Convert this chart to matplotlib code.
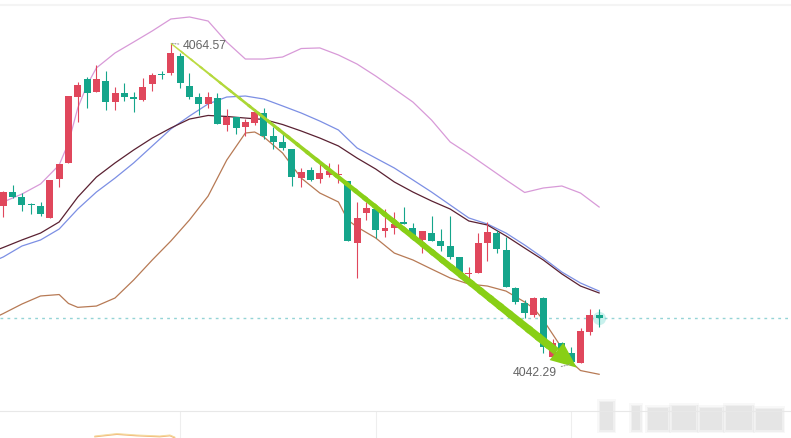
import matplotlib
matplotlib.use('Agg')
import matplotlib.pyplot as plt
import numpy as np
from matplotlib.patches import Polygon, Rectangle
from matplotlib.lines import Line2D

plt.rcParams['font.family'] = ['Liberation Sans', 'DejaVu Sans']

# candle data
opens = [4053.29, 4054.24, 4053.87, 4053.41, 4053.27, 4052.41, 4055.12, 4056.23, 4060.82, 4062.09,
         4061.17, 4061.95, 4060.51, 4061.14, 4060.82, 4060.63, 4061.72, 4062.38, 4062.49, 4063.69,
         4061.60, 4060.82, 4060.35, 4060.75, 4058.89, 4059.47, 4058.78, 4059.05, 4059.71, 4058.13,
         4057.69, 4057.23, 4055.19, 4055.77, 4055.12, 4055.42, 4055.41, 4055.00, 4050.72, 4052.80,
         4053.04, 4051.55, 4051.76, 4052.16, 4051.76, 4050.91, 4051.37, 4050.84, 4050.49, 4049.75,
         4048.52, 4048.59, 4050.72, 4051.37, 4050.21, 4047.55, 4046.55, 4045.69, 4046.86, 4042.80,
         4043.77, 4043.03, 4042.34, 4044.53, 4045.72]
highs = [4054.30, 4054.73, 4054.15, 4053.48, 4053.52, 4055.07, 4056.18, 4060.91, 4061.86, 4062.25,
         4063.06, 4062.67, 4061.55, 4061.83, 4061.21, 4062.14, 4062.49, 4062.67, 4064.57, 4063.92,
         4062.49, 4061.10, 4061.21, 4061.14, 4060.01, 4059.47, 4059.29, 4060.01, 4060.05, 4058.73,
         4058.32, 4057.23, 4055.93, 4056.00, 4056.23, 4056.23, 4056.16, 4055.00, 4053.57, 4053.57,
         4053.04, 4053.04, 4052.83, 4053.22, 4052.07, 4051.53, 4052.57, 4051.65, 4052.57, 4049.75,
         4049.05, 4051.37, 4052.13, 4051.60, 4051.13, 4047.66, 4046.74, 4046.97, 4046.97, 4044.01,
         4043.84, 4043.49, 4044.79, 4046.09, 4046.09]
lows = [4052.52, 4053.80, 4052.94, 4052.71, 4052.59, 4052.41, 4054.61, 4056.23, 4059.12, 4060.05,
        4061.17, 4059.94, 4059.94, 4060.58, 4059.82, 4060.56, 4061.28, 4062.07, 4062.37, 4061.49,
        4060.68, 4059.62, 4060.05, 4058.94, 4058.50, 4058.27, 4058.13, 4058.89, 4057.90, 4057.21,
        4057.16, 4054.68, 4054.57, 4055.02, 4054.84, 4055.30, 4054.89, 4050.86, 4048.24, 4052.29,
        4051.07, 4051.13, 4051.30, 4052.02, 4050.91, 4050.02, 4050.86, 4050.16, 4049.56, 4048.47,
        4048.13, 4048.59, 4049.48, 4049.98, 4047.66, 4046.46, 4045.47, 4045.54, 4043.08, 4042.69,
        4043.12, 4042.29, 4042.34, 4044.31, 4044.88]
closes = [4054.26, 4053.91, 4053.36, 4053.37, 4052.71, 4055.07, 4056.18, 4060.91, 4061.67, 4061.14,
          4062.09, 4060.51, 4061.14, 4060.82, 4060.68, 4061.55, 4062.39, 4062.35, 4063.88, 4061.79,
          4060.82, 4060.37, 4060.82, 4058.94, 4059.47, 4058.67, 4059.12, 4059.78, 4058.13, 4057.73,
          4057.28, 4055.30, 4055.61, 4055.07, 4055.54, 4055.72, 4055.44, 4050.86, 4052.45, 4053.11,
          4051.60, 4051.72, 4052.02, 4052.02, 4051.20, 4051.53, 4050.86, 4050.49, 4049.75, 4048.59,
          4048.56, 4050.70, 4051.46, 4050.28, 4047.66, 4046.62, 4045.81, 4046.86, 4043.49, 4043.77,
          4043.21, 4042.45, 4044.58, 4045.69, 4045.50]

# band / average lines, sampled at candle positions
upper_idx = [-1, 0, 2, 4, 6, 7, 8, 9, 10, 12, 14, 16, 18, 20, 22, 24, 26, 28, 30, 32, 34, 36, 38,
             40, 42, 44, 46, 48, 50, 52, 54, 56, 58, 60, 62, 64]
upper = [4053.34, 4053.55, 4054.10, 4054.80, 4056.12, 4057.65, 4060.08, 4061.68, 4062.86, 4063.90,
         4064.66, 4065.43, 4066.26, 4066.40, 4066.12, 4064.66, 4063.48, 4063.48, 4063.62, 4064.21,
         4064.25, 4063.76, 4063.13, 4062.30, 4061.40, 4060.49, 4059.24, 4057.72, 4056.88, 4055.98,
         4055.08, 4054.21, 4054.52, 4054.66, 4054.17, 4053.20]

line_idx = [-1, 0, 2, 4, 6, 8, 10, 12, 14, 16, 18, 20, 22, 24, 26, 28, 30, 32, 34, 36, 38, 40,
            42, 44, 46, 48, 50, 52, 54, 56, 58, 60, 62, 64]
ma_blue = [4049.45, 4049.73, 4050.49, 4050.91, 4051.67, 4053.06, 4054.24, 4055.21, 4056.26, 4057.44,
           4058.62, 4059.52, 4060.36, 4060.84, 4060.91, 4060.70, 4060.22, 4059.73, 4059.17, 4058.55,
           4057.30, 4056.60, 4055.91, 4055.08, 4054.24, 4053.34, 4052.44, 4052.02, 4051.39, 4050.56,
           4049.66, 4048.68, 4047.92, 4047.36]
mid_band = [4050.14, 4050.39, 4050.91, 4051.39, 4052.16, 4053.89, 4055.28, 4056.26, 4057.16, 4057.99,
            4058.69, 4059.31, 4059.56, 4059.49, 4059.38, 4059.28, 4058.93, 4058.48, 4057.99, 4057.44,
            4056.60, 4055.84, 4054.94, 4054.24, 4053.62, 4053.06, 4052.23, 4051.95, 4051.19, 4050.35,
            4049.52, 4048.55, 4047.71, 4047.23]

lower_idx = [-1, 0, 2, 4, 6, 7, 8, 10, 12, 14, 16, 18, 20, 22, 24, 26, 27, 28, 30, 32, 34, 36, 37,
             38, 40, 42, 44, 46, 48, 50, 52, 54, 56, 57, 58, 60, 61, 62, 64]
lower = [4045.49, 4045.80, 4046.46, 4047.02, 4047.12, 4046.50, 4046.23, 4046.32, 4046.88, 4048.13,
         4049.52, 4050.84, 4052.30, 4053.96, 4056.46, 4058.34, 4058.41, 4058.06, 4056.95, 4055.21,
         4054.17, 4053.55, 4052.30, 4051.81, 4051.05, 4050.00, 4049.52, 4048.89, 4048.27, 4047.85,
         4047.71, 4047.36, 4046.60, 4046.15, 4045.35, 4043.40, 4042.43, 4041.84, 4041.58]

# bit of the lower indicator that shows at the bottom
sub_idx = [9.85, 12.2, 14.3, 16.8, 17.9, 18.4]
sub_vals = [0.48, 1.37, 0.85, 0.48, 0.85, 0.11]
time_grid = [19, 40, 61]

opens, highs, lows, closes = map(np.array, (opens, highs, lows, closes))
x = np.arange(len(opens))

RED = '#e0475c'
TEAL = '#15a58b'

fig = plt.figure(figsize=(7.91, 4.38), dpi=100)
ax = fig.add_axes([0, 27 / 438, 1, 411 / 438])
ax.set_xlim(-0.354, 84.61)
ax.set_ylim(4039.03, 4067.58)
ax.axis('off')

# lines
kw = dict(lw=0.9, zorder=1, solid_joinstyle='round')
ax.plot(upper_idx, upper, color='#d89ad8', **kw)
ax.plot(line_idx, ma_blue, color='#7c8fe4', **kw)
ax.plot(line_idx, mid_band, color='#5a2132', **kw)
ax.plot(lower_idx, lower, color='#b77a55', **kw)

# current price line
ax.axhline(closes[-1], color='#94d4d6', lw=1, ls=(0, (2, 3)), zorder=0)

# candles
up = closes >= opens
cols = np.where(up, RED, TEAL)
ax.vlines(x, lows, highs, colors=cols, lw=0.8, zorder=3)
body_lo = np.minimum(opens, closes)
body_h = np.maximum(np.abs(closes - opens), 0.07)
ax.bar(x, body_h, 0.75, bottom=body_lo, color=cols, lw=0, zorder=4)
ax.scatter([x[-1]], [closes[-1]], s=90, color='#4fd3c4', alpha=0.3, lw=0, zorder=2)

# high / low labels
ih = int(np.argmax(highs))
il = int(np.argmin(lows))
lead = dict(arrowstyle='-', color='#999999', lw=0.8, linestyle=(0, (1, 1.5)), shrinkA=1, shrinkB=1)
ax.annotate(f'{highs[ih]:.2f}', xy=(ih, highs[ih]), xytext=(12, -3), textcoords='offset pixels',
            ha='left', va='center', fontsize=8.8, color='#666666', arrowprops=lead, zorder=6)
ax.annotate(f'{lows[il]:.2f}', xy=(il, lows[il]), xytext=(-14, -9), textcoords='offset pixels',
            ha='right', va='center', fontsize=8.8, color='#666666', arrowprops=lead, zorder=6)

# trend arrow, tapered, from the high to the low
fig.canvas.draw()
p0 = ax.transData.transform((ih, highs[ih]))
p1 = ax.transData.transform((il + 0.6, lows[il] - 0.25))
d = p1 - p0
L = np.hypot(*d)
u = d / L
n = np.array([-u[1], u[0]])
head_len, head_w = 26, 11
p_end = p1 - u * head_len
inv = ax.transData.inverted()
c0 = np.array(matplotlib.colors.to_rgb('#c2dc48'))
c1 = np.array(matplotlib.colors.to_rgb('#88cf16'))
N = 40
for k in range(N):
    t0, t1 = k / N, min((k + 1.3) / N, 1)
    a0 = p0 + (p_end - p0) * t0
    a1 = p0 + (p_end - p0) * t1
    w0 = 1.4 + 6.6 * t0
    w1 = 1.4 + 6.6 * t1
    pts = [a0 + n * w0 / 2, a1 + n * w1 / 2, a1 - n * w1 / 2, a0 - n * w0 / 2]
    c = c0 + (c1 - c0) * min(t0 * 2.2, 1)
    ax.add_patch(Polygon(inv.transform(pts), closed=True, fc=c, ec='none', zorder=5))
head = [p_end + n * head_w, p1, p_end - n * head_w]
ax.add_patch(Polygon(inv.transform(head), closed=True, fc=c1, ec='none', zorder=5))

# lower panel
ax2 = fig.add_axes([0, 0, 1, 27 / 438])
ax2.set_xlim(-0.354, 84.61)
ax2.set_ylim(0, 10)
ax2.axis('off')
for g in time_grid:
    ax2.axvline(g, color='#eeeeee', lw=0.8)
ax2.plot(sub_idx, sub_vals, color='#f2b77a', lw=1)
ax2.plot(sub_idx, np.array(sub_vals) + 0.25, color='#f5dca0', lw=0.8)

fig.add_artist(Line2D([0, 1], [27 / 438, 27 / 438], color='#e8e8e8', lw=0.8))
fig.add_artist(Line2D([0, 1], [1 - 5 / 438, 1 - 5 / 438], color='#f4f4f4', lw=1.5))

# faint blurred watermark blocks at the bottom right
H, W = 438, 791
for (bx, by, bw, bh) in [(600, 402, 13, 28), (632, 406, 8, 24), (648, 408, 20, 22), (672, 406, 24, 24),
                         (700, 408, 22, 22), (726, 406, 26, 24), (756, 409, 26, 21)]:
    for grow, a in [(3, 0.12), (1.5, 0.18), (0, 0.25)]:
        fig.add_artist(Rectangle(((bx - grow) / W, 1 - (by + bh + grow) / H), (bw + 2 * grow) / W,
                                 (bh + 2 * grow) / H, transform=fig.transFigure,
                                 fc='#c8c8c8', ec='none', alpha=a))

fig.savefig('out.png', dpi=100)
